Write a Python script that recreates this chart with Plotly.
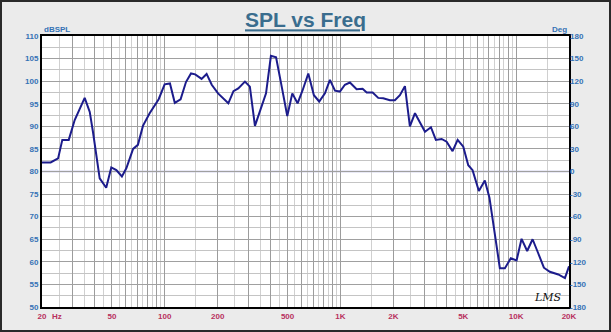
import numpy as np
import plotly.graph_objects as go

# ---- data ----
freq_hz = [20, 22.4, 24.7, 26.1, 28.4, 30.7, 35.0, 37.4, 39.0, 42.6, 46.4, 49.6, 53, 57, 60.4,
           66, 70.3, 75.1, 82, 92.3, 99.8, 107, 114, 123, 132, 141, 149, 162, 173, 185,
           201, 215, 230, 246, 262, 286, 305, 326, 348, 377, 402, 430, 463, 498, 532,
           570, 609, 656, 706, 757, 816, 871, 931, 993, 1060, 1132, 1236, 1337, 1410, 1525,
           1641, 1751, 1911, 2041, 2180, 2328, 2485, 2656, 3028, 3274, 3493, 3767, 4022, 4348,
           4647, 5003, 5340, 5651, 6136, 6637, 7050, 7566, 8081, 8630, 9333, 10060, 10740,
           11560, 12410, 13360, 14390, 15560, 17380, 18960, 20000]
spl_db = [82.0, 82.0, 82.9, 87.0, 87.0, 91.4, 96.3, 93.2, 88.8, 78.5, 76.4, 80.9, 80.3, 78.9, 80.7,
          85.0, 85.9, 90.1, 92.9, 96.0, 99.3, 99.5, 95.2, 96.0, 99.8, 101.7, 101.5, 100.5, 101.6, 99.2,
          97.3, 96.2, 95.1, 97.8, 98.4, 99.9, 98.8, 90.1, 93.2, 97.3, 105.6, 105.3, 98.8, 92.3, 97.3,
          95.1, 98.0, 101.7, 96.9, 95.5, 97.3, 100.3, 97.9, 97.7, 99.2, 99.7, 98.2, 98.3, 97.5, 97.5,
          96.3, 96.2, 95.8, 95.8, 96.9, 98.9, 90.0, 92.9, 88.8, 89.8, 87.0, 87.2, 86.6, 84.5,
          87.0, 85.5, 81.4, 80.3, 75.7, 78.0, 74.2, 65.7, 58.6, 58.6, 60.8, 60.3, 65.1,
          62.4, 65.0, 61.9, 58.7, 57.8, 57.2, 56.4, 59.0]

x_label_vals = [20, 50, 100, 200, 500, 1000, 2000, 5000, 10000, 20000]
x_label_text = ["20", "50", "100", "200", "500", "1K", "2K", "5K", "10K", "20K"]
spl_ticks = list(range(50, 111, 5))
deg_ticks = list(range(-180, 181, 30))

title_text = "SPL vs Freq"

# ---- grid positions (1..9 and half steps per decade) ----
major_x, minor_x = [], []
for dec in [10, 100, 1000, 10000]:
    for n in range(1, 10):
        v = n * dec
        if 20 <= v <= 20000:
            major_x.append(v)
        h = (n + 0.5) * dec
        if 20 <= h <= 20000:
            minor_x.append(h)
major_text = [x_label_text[x_label_vals.index(v)] if v in x_label_vals else "" for v in major_x]

L, R, T, B = 42, 42, 36, 25
W, H = 611, 332
pw, ph = W - L - R, H - T - B

fig = go.Figure()
fig.add_trace(go.Scatter(x=freq_hz, y=spl_db, mode="lines",
                         line=dict(color="#1c1c8c", width=2), showlegend=False,
                         hoverinfo="x+y"))
fig.add_trace(go.Scatter(x=[20], y=[None], yaxis="y2", showlegend=False, hoverinfo="skip"))

tick_font_blue = dict(family="Liberation Sans, Arial", size=8, color="#3572b5", weight="bold")

fig.update_layout(
    width=W, height=H,
    margin=dict(l=L, r=R, t=T, b=B),
    paper_bgcolor="#ebebeb",
    plot_bgcolor="#ffffff",
    title=dict(text=title_text, x=0.5, xref="paper", xanchor="center",
               y=1 - 20 / H, yref="container", yanchor="middle",
               font=dict(family="Liberation Sans, Arial", size=21, color="#3a6d8e",
                         weight="bold", lineposition="under")),
    xaxis=dict(type="log", range=[np.log10(20), np.log10(20000)],
               tickmode="array", tickvals=major_x, ticktext=major_text,
               showgrid=True, gridcolor="#9c9c9c", gridwidth=1,
               minor=dict(tickmode="array", tickvals=minor_x, showgrid=True,
                          gridcolor="#d0d0d0", gridwidth=1, ticks=""),
               showline=True, linecolor="#000000", linewidth=2, mirror=True,
               ticks="", ticklen=0,
               tickfont=dict(family="Liberation Sans, Arial", size=8, color="#b8305e", weight="bold"),
               zeroline=False, fixedrange=True),
    yaxis=dict(range=[50, 110], tickmode="array", tickvals=spl_ticks,
               ticktext=[str(v) for v in spl_ticks],
               showgrid=True, gridcolor="#a0a0a0", gridwidth=1,
               minor=dict(dtick=2.5, showgrid=True, gridcolor="#c4c4c4", gridwidth=1, ticks=""),
               showline=True, linecolor="#000000", linewidth=2, mirror=True,
               ticks="", tickfont=tick_font_blue, zeroline=False, fixedrange=True),
    yaxis2=dict(range=[-180, 180], overlaying="y", side="right", tickmode="array",
                tickvals=deg_ticks, ticktext=[str(v) for v in deg_ticks],
                showgrid=False, zeroline=False, showline=False, ticks="",
                tickfont=tick_font_blue, fixedrange=True),
)

# 0 deg / 80 dB reference line
fig.add_shape(type="line", xref="paper", yref="y", x0=0, x1=1, y0=80, y1=80,
              line=dict(color="#a6a6dc", width=1.5), layer="between")

# outer frame
fig.add_shape(type="rect", xref="paper", yref="paper",
              x0=-(L - 1) / pw, x1=1 + (R - 1) / pw, y0=-(B - 1) / ph, y1=1 + (T - 1) / ph,
              line=dict(color="#2a2a2a", width=2), fillcolor="rgba(0,0,0,0)", layer="below")

fig.add_annotation(text="dBSPL", xref="paper", yref="paper", x=0, y=1, xanchor="left",
                   yanchor="bottom", showarrow=False, yshift=0,
                   font=dict(family="Liberation Sans, Arial", size=8, color="#3572b5", weight="bold"))
fig.add_annotation(text="Deg", xref="paper", yref="paper", x=1, y=1, xanchor="right",
                   yanchor="bottom", showarrow=False,
                   font=dict(family="Liberation Sans, Arial", size=8, color="#3572b5", weight="bold"))
fig.add_annotation(text="Hz", xref="paper", yref="paper", x=15 / pw, y=0, xanchor="center",
                   yanchor="top", showarrow=False, yshift=-3,
                   font=dict(family="Liberation Sans, Arial", size=8, color="#b8305e", weight="bold"))
fig.add_annotation(text="<i>LMS</i>", xref="paper", yref="paper", x=(548 - L) / pw,
                   y=(H - B - 297) / ph, xanchor="center", yanchor="middle", showarrow=False,
                   font=dict(family="DejaVu Serif", size=11, color="#111111"))

fig.write_html("out.html")
